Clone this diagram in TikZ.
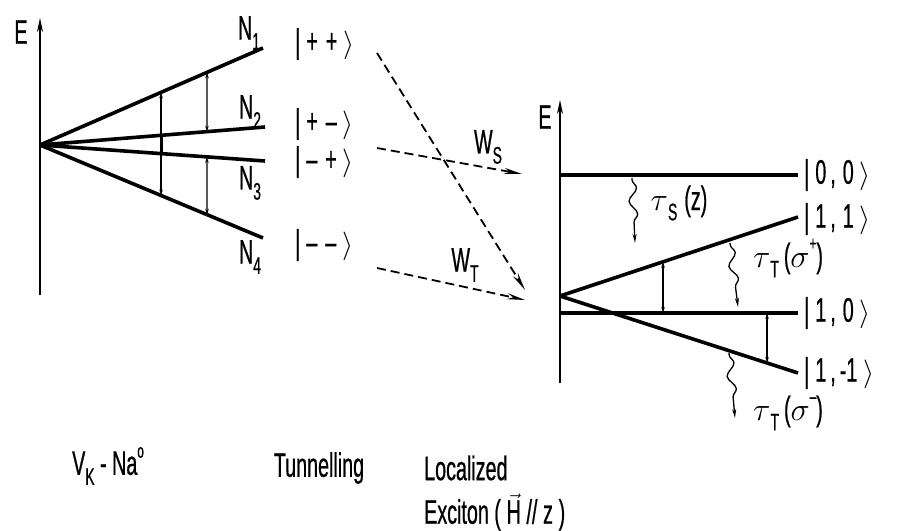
\documentclass[tikz,border=0pt]{standalone}
\usepackage{fontspec}
\setmainfont{Liberation Sans}[FakeStretch=0.58,FakeBold=0.6]
\usetikzlibrary{arrows.meta,calc,decorations.pathmorphing}

\newcommand\subidx[1]{\raisebox{-0.3em}{\fontsize{24}{26}\selectfont #1}}
\newcommand\supidx[1]{\raisebox{0.5em}{\fontsize{20}{22}\selectfont #1}}
\newcommand\kt[1]{|\hspace{6pt}#1\hspace{6pt}\scalebox{1.15}{$\rangle$}}
\newcommand\gk[1]{\scalebox{1.3}{$#1$}}

\tikzset{
  level/.style={line width=3.6pt},
  eaxis/.style={line width=1.8pt,-{Stealth[length=14pt,width=6pt]}},
  split/.style={line width=1.3pt,{Stealth[length=6pt,width=3.5pt]}-{Stealth[length=6pt,width=3.5pt]}},
  tunnel/.style={line width=1.8pt,dash pattern=on 9pt off 5pt,-{Stealth[length=18pt,width=6pt]}},
  decay/.style={line width=1.3pt,-{Stealth[length=9pt,width=4pt]},decorate,
    decoration={snake,amplitude=4pt,segment length=26pt,pre length=2pt,post length=9pt}},
  lbl/.style={font=\fontsize{34}{38}\selectfont,inner sep=0pt},
}

\begin{document}
\begin{tikzpicture}[x=1pt,y=-1pt]
\useasboundingbox (0,0) rectangle (899,530);

% V_K - Na0 levels
\coordinate (la0) at (40,295);
\coordinate (la1) at (40,18);
\coordinate (v) at (40,145);
\coordinate (n1) at (263,48);
\coordinate (n2) at (265,127);
\coordinate (n3) at (265,161);
\coordinate (n4) at (263,238);
\draw[eaxis] (la0) -- (la1);
\node[lbl] (eleft) at (21,32) {E};
\foreach \n in {n1,n2,n3,n4} {
  \draw[level] (v) -- (\n);
}
\draw[split] ($(v)!0.543!(n1)$) -- ($(v)!0.543!(n4)$);
\draw[line width=3pt] ($(v)!0.538!(n2)$) -- ($(v)!0.538!(n3)$);
\draw[split] ($(v)!0.749!(n1)$) -- ($(v)!0.742!(n2)$);
\draw[split] ($(v)!0.742!(n3)$) -- ($(v)!0.749!(n4)$);
\node[lbl] (n1lbl) at (249,33) {N\subidx{1}};
\node[lbl] (n2lbl) at (250,112) {N\subidx{2}};
\node[lbl] (n3lbl) at (250,183) {N\subidx{3}};
\node[lbl] (n4lbl) at (250,257) {N\subidx{4}};

% pair states
\node[lbl,anchor=west] (kpp) at (295,44) {\kt{+\hspace{8pt}+}};
\node[lbl,anchor=west] (kpm) at (295,124) {\kt{+\hspace{8pt}–}};
\node[lbl,anchor=west] (kmp) at (295,162) {\kt{–\hspace{8pt}+}};
\node[lbl,anchor=west] (kmm) at (295,245) {\kt{–\hspace{8pt}–}};

% tunnelling
\coordinate (d1a) at (377,53);
\coordinate (d1b) at (525,290);
\coordinate (wsa) at (377,148);
\coordinate (wsb) at (522,174);
\coordinate (wta) at (377,268);
\coordinate (wtb) at (525,300);
\draw[tunnel] (d1a) -- (d1b);
\draw[tunnel] (wsa) -- (wsb);
\draw[tunnel] (wta) -- (wtb);
\node[lbl] (ws) at (488,147) {W\subidx{S}};
\node[lbl] (wt) at (465,265) {W\subidx{T}};

% localized exciton
\coordinate (ra0) at (560,383);
\coordinate (ra1) at (560,100);
\coordinate (s0a) at (560,175);
\coordinate (s0b) at (798,175);
\coordinate (w) at (560,296);
\coordinate (t1) at (798,217);
\coordinate (tm1) at (798,373);
\coordinate (t0a) at (560,313);
\coordinate (t0b) at (798,313);
\draw[eaxis] (ra0) -- (ra1);
\node[lbl] (eright) at (545,117) {E};
\draw[level] (s0a) -- (s0b);
\draw[level] (w) -- (t1);
\draw[level] (w) -- (tm1);
\draw[level] (t0a) -- (t0b);
\draw[split] ($(w)!0.433!(t1)$) -- ($(t0a)!0.433!(t0b)$);
\draw[split] ($(t0a)!0.870!(t0b)$) -- ($(w)!0.870!(tm1)$);
\node[lbl,anchor=west] (k00) at (804,175) {\kt{0\hspace{4pt},\hspace{7pt}0}};
\node[lbl,anchor=west] (k11) at (804,219) {\kt{1\hspace{4pt},\hspace{7pt}1}};
\node[lbl,anchor=west] (k10) at (804,313) {\kt{1\hspace{4pt},\hspace{7pt}0}};
\node[lbl,anchor=west] (k1m) at (804,373) {\kt{1\hspace{4pt},\hspace{4pt}-1}};

% radiative decay
\coordinate (rsa) at (632,178);
\coordinate (rsb) at (635,243);
\coordinate (rpa) at (730,243);
\coordinate (rpb) at (738,307);
\coordinate (rma) at (729,353);
\coordinate (rmb) at (735,418);
\draw[decay] (rsa) -- (rsb);
\draw[decay] (rpa) -- (rpb);
\draw[decay] (rma) -- (rmb);
\node[lbl] (taus) at (679,203) {\gk{\tau}\subidx{S}\hspace{7pt}(z)};
\node[lbl] (taup) at (788,258) {\gk{\tau}\subidx{T}\hspace{5pt}(\gk{\sigma}\supidx{+})};
\node[lbl] (taum) at (788,413) {\gk{\tau}\subidx{T}\hspace{5pt}(\gk{\sigma}\supidx{–})};

% captions
\node[lbl] (vkna) at (108,466) {V\subidx{K} - Na\supidx{o}};
\node[lbl] (tunl) at (319,468) {Tunnelling};
\node[lbl,anchor=west] (loc) at (424,468) {Localized};
\node[lbl,anchor=west] (exc) at (424,512) {Exciton (\,$\vec{\mbox{H}}$\,//\,z\,)};
\end{tikzpicture}
\end{document}
